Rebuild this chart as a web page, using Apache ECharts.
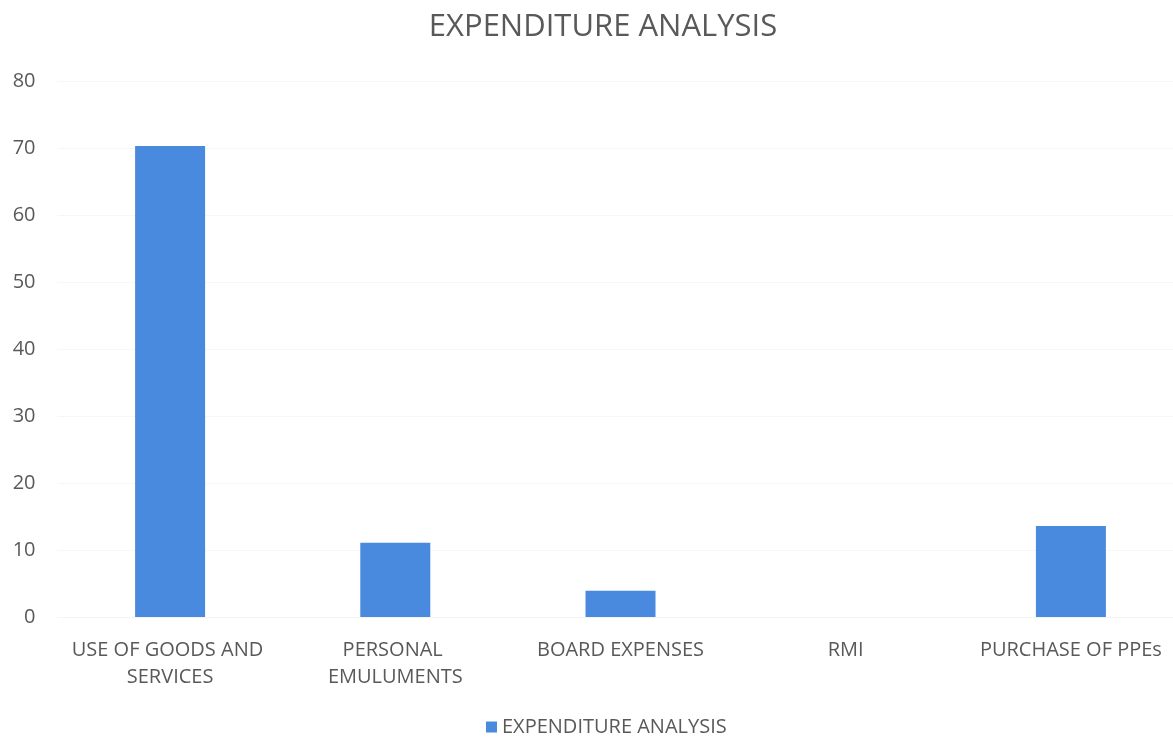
<!DOCTYPE html>
<html>
<head>
<meta charset="utf-8">
<script src="https://cdn.jsdelivr.net/npm/echarts@6/dist/echarts.min.js"></script>
<style>
  html, body { margin: 0; padding: 0; background: #fff; }
  #chart { width: 1173px; height: 739px; }
</style>
</head>
<body>
<div id="chart"></div>
<script>
// Expenditure categories and amounts
const categories = ['USE OF GOODS AND SERVICES', 'PERSONAL EMULUMENTS', 'BOARD EXPENSES', 'RMI', 'PURCHASE OF PPEs'];
const expenditure = [70.3, 11.1, 3.9, 0, 13.6];
const seriesName = 'EXPENDITURE ANALYSIS';
const yTicks = { min: 0, max: 80, interval: 10 };

const textColor = '#595959';
const font = 'Open Sans';

const chart = echarts.init(document.getElementById('chart'));
chart.setOption({
  animation: false,
  backgroundColor: '#ffffff',
  title: {
    text: 'EXPENDITURE ANALYSIS',
    left: 603,
    textAlign: 'center',
    top: 10,
    padding: 0,
    textStyle: { color: textColor, fontFamily: font, fontSize: 31, fontWeight: 'normal', lineHeight: 34 }
  },
  legend: {
    top: 717,
    left: 486,
    padding: 0,
    icon: 'rect',
    itemWidth: 11,
    itemHeight: 11,
    itemGap: 6,
    textStyle: { color: textColor, fontFamily: font, fontSize: 20 },
    data: [seriesName]
  },
  grid: { left: 57.5, top: 81, width: 1126, bottom: 122, outerBoundsMode: 'none' },
  xAxis: {
    type: 'category',
    data: categories,
    axisLine: { show: true, lineStyle: { color: '#f4f4f4' } },
    axisTick: { show: false },
    axisLabel: {
      color: textColor, fontFamily: font, fontSize: 20, margin: 20,
      lineHeight: 27, width: 205, overflow: 'break', interval: 0
    }
  },
  yAxis: {
    type: 'value',
    min: yTicks.min, max: yTicks.max, interval: yTicks.interval,
    axisLine: { show: false },
    axisTick: { show: false },
    splitLine: { lineStyle: { color: '#f7f7f7' } },
    axisLabel: { color: textColor, fontFamily: font, fontSize: 20, margin: 22 }
  },
  series: [{
    name: seriesName,
    type: 'bar',
    data: expenditure,
    barWidth: 70,
    itemStyle: { color: '#4a8ade' }
  }]
});
</script>
</body>
</html>
